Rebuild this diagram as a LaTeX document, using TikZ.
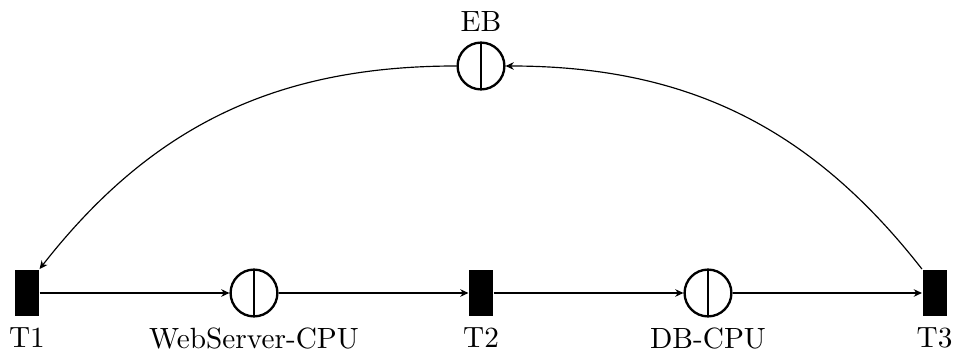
\documentclass[tikz,border=0pt]{standalone}
\usepackage{tikz}
\usetikzlibrary{arrows.meta,positioning}
\tikzset{
  place/.style={draw,circle,thick,minimum size=16pt,inner sep=0pt,
    path picture={\draw[thick] (path picture bounding box.north) -- (path picture bounding box.south);}},
  trans/.style={fill=black,minimum width=8.2pt,minimum height=16pt,inner sep=0pt},
}
\begin{document}
\begin{tikzpicture}[x=0.3417pt,y=0.3417pt,>={Stealth[length=2.8pt,width=2.6pt,inset=0.9pt]}]
  \useasboundingbox (0,0) rectangle (954,351);
  % transitions
  \node[trans,label=below:T1] (t1) at (27,58) {};
  \node[trans,label=below:T2] (t2) at (481,58) {};
  \node[trans,label=below:T3] (t3) at (934.5,58) {};
  % places
  \node[place,label=below:WebServer-CPU] (ws) at (254,58) {};
  \node[place,label=below:DB-CPU] (db) at (708,58) {};
  \node[place,label=above:EB] (eb) at (481,285) {};
  % arcs
  \draw[->] (t1) -- (ws);
  \draw[->] (ws) -- (t2);
  \draw[->] (t2) -- (db);
  \draw[->] (db) -- (t3);
  \draw[->] (t3.north west) to[bend right=26] (eb.east);
  \draw[->] (eb.west) to[bend right=26] (t1.north east);
\end{tikzpicture}
\end{document}
